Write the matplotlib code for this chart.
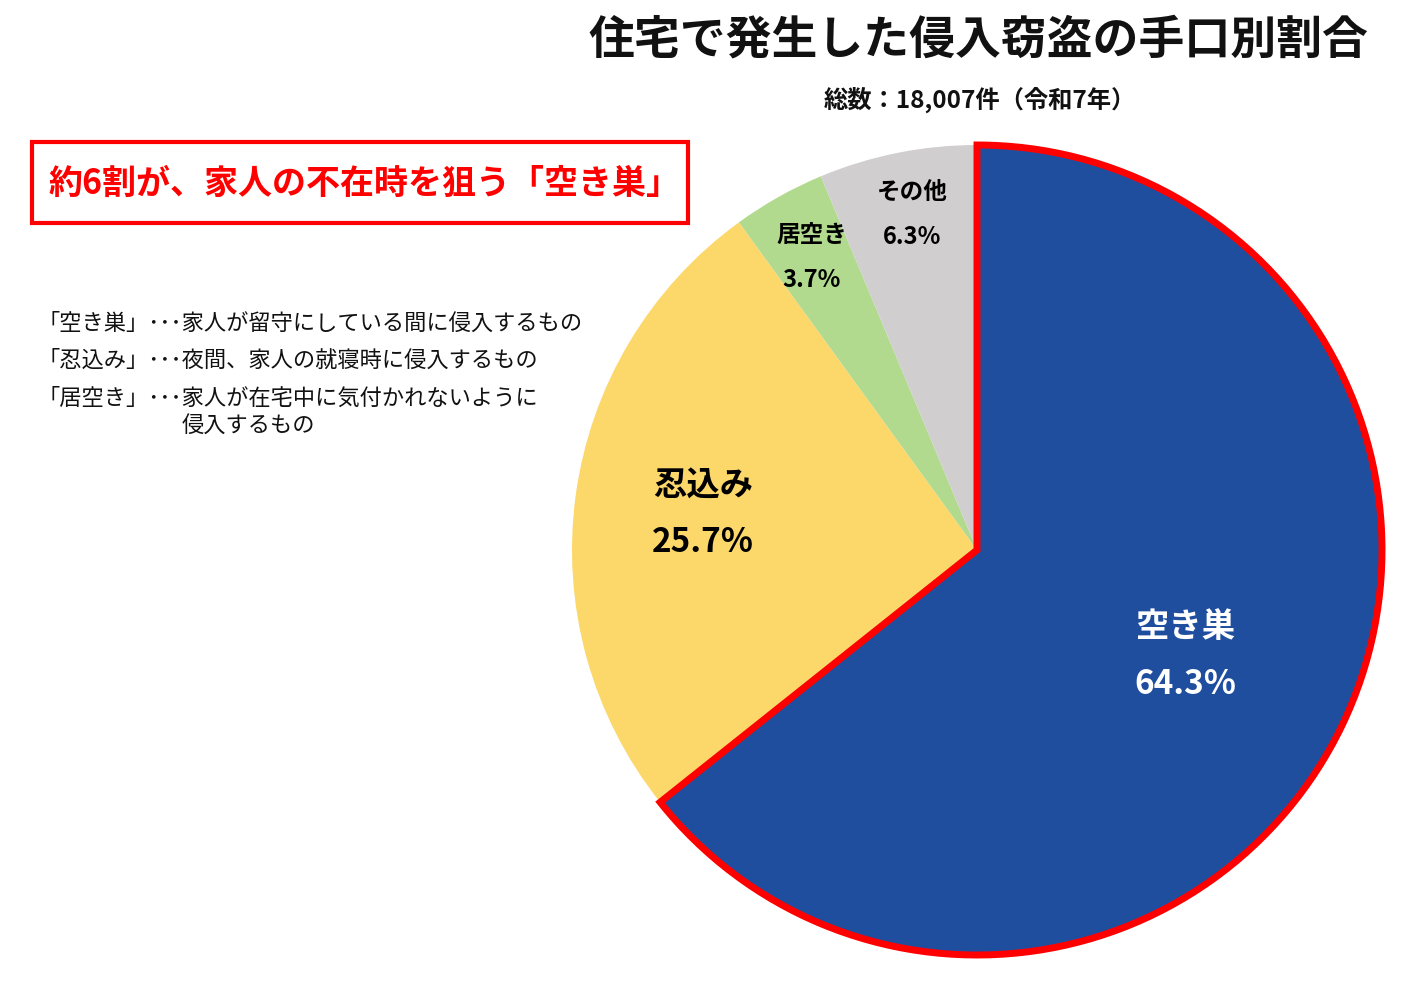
import matplotlib
matplotlib.use("Agg")
import matplotlib.pyplot as plt
from matplotlib.patches import Rectangle

plt.rcParams['font.family'] = ['Noto Sans CJK JP', 'DejaVu Sans']

# Data
labels = ['空き巣', '忍込み', '居空き', 'その他']
shares = [64.3, 25.7, 3.7, 6.3]
colors = ['#1F4E9F', '#FCD76A', '#B1DA8F', '#D0CECE']
label_colors = ['white', 'black', 'black', 'black']

title = '住宅で発生した侵入窃盗の手口別割合'
subtitle = '総数：18,007件（令和7年）'
callout = '約6割が、家人の不在時を狙う「空き巣」'
notes = [
    '「空き巣」･･･家人が留守にしている間に侵入するもの',
    '「忍込み」･･･夜間、家人の就寝時に侵入するもの',
    '「居空き」･･･家人が在宅中に気付かれないように',
]
note_cont = '侵入するもの'

W, H = 1420, 994
fig = plt.figure(figsize=(W / 100, H / 100), dpi=100)

# Pie axes: center (977, 550), radius 405 px
cx, cy, r = 977, 550, 405
pad = 1.02
ax = fig.add_axes([(cx - r * pad) / W, (H - cy - r * pad) / H,
                   2 * r * pad / W, 2 * r * pad / H])
wedges, _ = ax.pie(shares, colors=colors, startangle=90, counterclock=False,
                   radius=1, wedgeprops=dict(linewidth=0))
ax.set_xlim(-pad, pad)
ax.set_ylim(-pad, pad)
ax.set_aspect('equal')
ax.axis('off')

# red outline on the biggest slice
wedges[0].set_edgecolor('#FF0000')
wedges[0].set_linewidth(5)
wedges[0].set_joinstyle('miter')
wedges[0].set_zorder(5)

# slice labels (pixel positions of name / value)
label_pos = [(1185, 628, 685, 24), (703, 485, 542, 24),
             (812, 235, 280, 17), (912, 192, 237, 17)]
for i, (x, y1, y2, fs) in enumerate(label_pos):
    fig.text(x / W, 1 - y1 / H, labels[i], ha='center', va='center',
             fontsize=fs, color=label_colors[i], fontweight='bold')
    fig.text(x / W, 1 - y2 / H, f'{shares[i]:.1f}%', ha='center', va='center',
             fontsize=fs, color=label_colors[i], fontweight='bold')

# titles
fig.text(978 / W, 1 - 40 / H, title, ha='center', va='center',
         fontsize=33, fontweight='bold', color='#111111')
fig.text(980 / W, 1 - 100 / H, subtitle, ha='center', va='center',
         fontsize=17.5, fontweight='bold', color='#111111')

# callout box
fig.patches.append(Rectangle((32 / W, 1 - 223 / H), 656 / W, 81 / H,
                             transform=fig.transFigure, fill=False,
                             edgecolor='#FF0000', linewidth=3))
fig.text(48 / W, 1 - 183 / H, callout, ha='left', va='center',
         fontsize=24.5, fontweight='bold', color='#FF0000')

# definitions
for y, line in zip([323, 360, 398], notes):
    fig.text(38 / W, 1 - y / H, line, ha='left', va='center',
             fontsize=16, color='#111111')
fig.text(182 / W, 1 - 426 / H, note_cont, ha='left', va='center',
         fontsize=16, color='#111111')

fig.savefig('out.png', dpi=100)
